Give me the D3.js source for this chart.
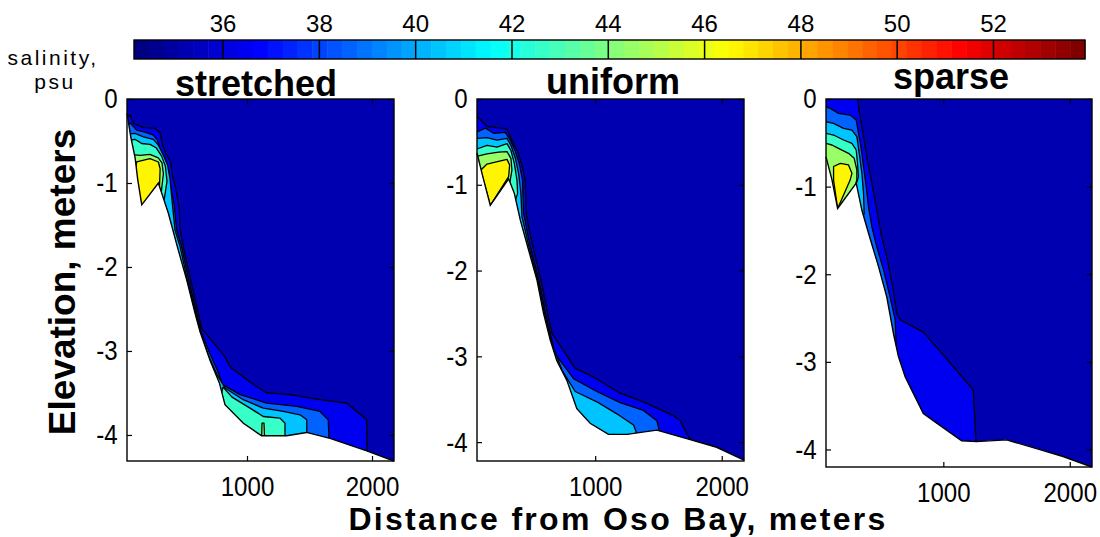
<!DOCTYPE html>
<meta charset="utf-8">
<style>
    body { margin: 0; background: #fff; }
    svg text { font-family: "Liberation Sans", Arial, sans-serif; fill: #000; }
    .contour { stroke: #000; stroke-width: 1.3px; stroke-linejoin: round; }
    .seabed { fill: none; stroke: #000; stroke-width: 1.4px; }
    .frame { fill: none; stroke: #000; stroke-width: 1.4px; }
    .axis path { display: none; }
    .axis line { stroke: #000; stroke-width: 1.2px; }
    .axis text { font-size: 28px; }
    .title { font-size: 36px; font-weight: bold; text-anchor: middle; }
    .label { font-weight: bold; text-anchor: middle; }
    .cbtick { font-size: 24px; text-anchor: middle; }
    .cblabel { font-size: 21px; letter-spacing: 2.5px; text-anchor: middle; }
</style>
<body>
<script src="https://d3js.org/d3.v7.min.js"></script>
<script>
// ---- data (distance in meters, elevation in meters, salinity in psu) ----
var levels = [36, 38, 40, 42, 44, 46, 48, 50, 52];      // contour levels / colorbar ticks
var colorbarDomain = [34.15, 53.9];
var levelFill = {34: 35.3, 36: 36.5, 38: 38.5, 40: 40.5, 42: 42.5, 44: 44.5, 46: 46.5};
var panelTitles = ["stretched", "uniform", "sparse"];
var xDomains = [[40, 2176], [66, 2176], [72, 2176]];
var yDomains = [[-4.31, 0], [-4.22, 0], [-4.2, 0]];
var xTicks = [1000, 2000];
var yTicks = [0, -1, -2, -3, -4];

// seabed profile of each grid
var bottomStretched = [[40,-0.17],[70,-0.45],[105,-0.70],[125,-0.95],[158,-1.26],[291,-1.00],[371,-1.36],[443,-1.76],[517,-2.15],[584,-2.55],[624,-2.77],[704,-3.11],[779,-3.38],[824,-3.64],[971,-3.86],[1117,-4.01],[1317,-4.01],[1477,-3.97],[1664,-4.04],[1958,-4.19],[2176,-4.31]];
var bottomUniform = [[66,-0.63],[113,-0.91],[171,-1.24],[316,-0.93],[361,-1.10],[408,-1.41],[466,-1.72],[540,-2.11],[592,-2.50],[645,-2.81],[697,-3.05],[776,-3.28],[855,-3.61],[960,-3.78],[1105,-3.91],[1250,-3.91],[1487,-3.86],[1723,-3.96],[1960,-4.06],[2176,-4.21]];
var bottomSparse = [[72,-0.66],[119,-0.92],[164,-1.25],[311,-0.96],[356,-1.27],[416,-1.57],[487,-1.91],[553,-2.26],[606,-2.68],[645,-2.94],[698,-3.17],[763,-3.36],[842,-3.59],[948,-3.70],[1145,-3.90],[1263,-3.91],[1500,-3.89],[1737,-3.99],[1947,-4.08],[2176,-4.20]];

// filled contour regions (salinity >= level); open = region reaches down to the seabed
var regionsStretched = [
    {level: 36, open: true, pts: [[30,-0.22],[64,-0.19],[91,-0.29],[171,-0.34],[264,-0.35],[304,-0.40],[325,-0.55],[352,-0.65],[389,-0.75],[405,-0.92],[432,-1.08],[459,-1.32],[464,-1.56],[491,-1.76],[549,-2.15],[611,-2.55],[637,-2.73],[824,-3.07],[864,-3.19],[1024,-3.37],[1157,-3.50],[1344,-3.52],[1584,-3.58],[1797,-3.62],[1957,-3.82],[1963,-4.4]]},
    {level: 38, open: true, pts: [[30,-0.30],[69,-0.29],[117,-0.37],[197,-0.40],[251,-0.43],[283,-0.49],[309,-0.61],[344,-0.71],[371,-0.85],[389,-1.04],[416,-1.24],[437,-1.56],[477,-1.76],[533,-2.15],[597,-2.55],[629,-2.75],[700,-3.02],[760,-3.22],[806,-3.40],[944,-3.52],[1158,-3.62],[1398,-3.66],[1584,-3.72],[1650,-3.82],[1664,-4.4]]},
    {level: 40, open: true, pts: [[30,-0.42],[104,-0.41],[171,-0.45],[251,-0.48],[291,-0.55],[331,-0.67],[365,-0.79],[384,-0.95],[397,-1.16],[424,-1.56],[465,-1.76],[522,-2.15],[590,-2.55],[624,-2.76],[690,-3.05],[760,-3.28],[824,-3.44],[970,-3.58],[1130,-3.68],[1290,-3.72],[1424,-3.76],[1478,-3.82],[1480,-4.4]]},
    {level: 42, open: true, pts: [[30,-0.50],[104,-0.48],[157,-0.53],[224,-0.54],[272,-0.58],[317,-0.68],[347,-0.80],[360,-0.98],[335,-1.22]]},
    {level: 42, open: true, pts: [[780,-3.6],[808,-3.43],[880,-3.55],[1024,-3.68],[1130,-3.78],[1264,-3.80],[1304,-3.86],[1304,-4.4]]},
    {level: 44, open: true, pts: [[30,-0.66],[69,-0.66],[144,-0.67],[224,-0.66],[290,-0.70],[320,-0.76],[331,-0.89],[312,-1.14]]},
    {level: 44, open: false, pts: [[1116,-4.1],[1120,-3.86],[1136,-3.86],[1142,-4.1]]},
    {level: 46, open: false, pts: [[104,-0.94],[117,-0.75],[224,-0.71],[291,-0.75],[305,-0.83],[300,-1.04],[157,-1.26]]}
];
var regionsUniform = [
    {level: 36, open: true, pts: [[0,-0.21],[71,-0.21],[145,-0.32],[303,-0.35],[342,-0.48],[387,-0.61],[421,-0.77],[447,-0.95],[455,-1.33],[474,-1.49],[508,-1.72],[571,-2.11],[624,-2.50],[658,-2.73],[842,-3.14],[987,-3.24],[1197,-3.43],[1381,-3.53],[1618,-3.69],[1671,-3.75],[1750,-3.97],[1760,-4.4]]},
    {level: 38, open: true, pts: [[0,-0.38],[71,-0.38],[132,-0.34],[198,-0.40],[290,-0.39],[329,-0.48],[369,-0.61],[403,-0.77],[426,-0.95],[434,-1.33],[455,-1.49],[487,-1.72],[555,-2.11],[608,-2.50],[650,-2.77],[684,-2.97],[829,-3.26],[1013,-3.41],[1197,-3.54],[1381,-3.63],[1487,-3.75],[1513,-3.9],[1513,-4.4]]},
    {level: 40, open: true, pts: [[0,-0.45],[71,-0.46],[145,-0.45],[224,-0.48],[303,-0.46],[334,-0.54],[369,-0.69],[395,-0.87],[413,-1.10],[421,-1.37],[447,-1.53],[476,-1.72],[547,-2.11],[600,-2.50],[658,-2.85],[737,-3.16],[842,-3.41],[1013,-3.53],[1171,-3.67],[1303,-3.80],[1329,-3.9],[1329,-4.4]]},
    {level: 42, open: true, pts: [[0,-0.58],[71,-0.58],[145,-0.54],[224,-0.56],[303,-0.52],[334,-0.60],[361,-0.75],[382,-0.95],[387,-1.10],[365,-1.2]]},
    {level: 44, open: true, pts: [[0,-0.66],[71,-0.665],[145,-0.64],[237,-0.62],[303,-0.614],[334,-0.692],[342,-0.828],[329,-0.945],[320,-1.0]]},
    {level: 46, open: false, pts: [[95,-0.83],[145,-0.758],[303,-0.704],[324,-0.77],[316,-0.906],[171,-1.24]]}
];
var regionsSparse = [
    {level: 36, open: true, pts: [[0,0.05],[316,0.05],[337,-0.16],[369,-0.43],[400,-0.70],[435,-0.96],[474,-1.27],[513,-1.57],[558,-1.84],[600,-2.14],[632,-2.45],[658,-2.52],[842,-2.66],[987,-2.90],[1237,-3.32],[1258,-3.91],[1258,-4.4]]},
    {level: 38, open: true, pts: [[0,-0.09],[71,-0.088],[106,-0.107],[171,-0.164],[263,-0.183],[311,-0.24],[329,-0.39],[348,-0.54],[369,-0.77],[390,-1.0],[408,-1.23],[435,-1.46],[474,-1.69],[527,-1.95],[579,-2.26],[619,-2.52],[630,-2.9]]},
    {level: 40, open: true, pts: [[0,-0.26],[71,-0.259],[132,-0.278],[211,-0.335],[277,-0.354],[316,-0.43],[335,-0.62],[356,-0.85],[369,-1.08],[374,-1.31],[360,-1.35]]},
    {level: 42, open: true, pts: [[0,-0.39],[71,-0.392],[132,-0.411],[211,-0.468],[277,-0.506],[311,-0.582],[321,-0.734],[329,-0.886],[305,-1.0]]},
    {level: 44, open: true, pts: [[0,-0.5],[71,-0.506],[119,-0.525],[171,-0.563],[250,-0.62],[295,-0.677],[316,-0.81],[316,-0.92],[305,-0.98]]},
    {level: 46, open: false, pts: [[132,-0.77],[185,-0.734],[250,-0.753],[277,-0.848],[263,-0.925],[164,-1.25],[132,-0.925]]}
];

var bottoms = [bottomStretched, bottomUniform, bottomSparse];
var regions = [regionsStretched, regionsUniform, regionsSparse];

// ---- layout (pixels) ----
var width = 1100, height = 537;
var boxes = [
    {x0: 127, x1: 394, y0: 99, y1: 461},
    {x0: 477, x1: 744, y0: 99, y1: 461},
    {x0: 826, x1: 1092, y0: 99, y1: 467}
];
var titlePos = [{x: 256, y: 96}, {x: 613, y: 94}, {x: 951, y: 89}];
var cb = {x0: 134, x1: 1085, y0: 40, y1: 59};
var FLOOR = -6;

// MATLAB style jet colormap with 64 entries
function jet(t) {
    var c = function(v) { return Math.round(255 * Math.max(0, Math.min(1, v))); };
    return "rgb(" + c(1.5 - Math.abs(4 * t - 3)) + "," + c(1.5 - Math.abs(4 * t - 2)) + "," + c(1.5 - Math.abs(4 * t - 1)) + ")";
}
var nColors = 64;
var tScale = d3.scaleLinear().domain(colorbarDomain).range([0, 1]).clamp(true);
function salinityColor(v) {
    var idx = Math.min(nColors - 1, Math.floor(tScale(v) * nColors));
    return jet(idx / (nColors - 1));
}

var svg = d3.select("body").append("svg")
    .attr("width", width)
    .attr("height", height);

// ---- colorbar ----
var cbX = d3.scaleLinear().domain(colorbarDomain).range([cb.x0, cb.x1]);
var steps = d3.range(nColors);
var stepW = (colorbarDomain[1] - colorbarDomain[0]) / nColors;
svg.append("g").selectAll("rect").data(steps).enter().append("rect")
    .attr("x", function(i) { return cbX(colorbarDomain[0] + i * stepW); })
    .attr("y", cb.y0)
    .attr("width", function(i) { return cbX(colorbarDomain[0] + (i + 1) * stepW) - cbX(colorbarDomain[0] + i * stepW) + 0.5; })
    .attr("height", cb.y1 - cb.y0)
    .attr("fill", function(i) { return jet(i / (nColors - 1)); });
svg.append("g").selectAll("line").data(levels).enter().append("line")
    .attr("x1", function(d) { return cbX(d); })
    .attr("x2", function(d) { return cbX(d); })
    .attr("y1", cb.y0).attr("y2", cb.y1)
    .attr("stroke", "#000").attr("stroke-width", 1.5);
svg.append("rect")
    .attr("class", "frame")
    .attr("x", cb.x0).attr("y", cb.y0)
    .attr("width", cb.x1 - cb.x0).attr("height", cb.y1 - cb.y0);
svg.append("g").selectAll("text").data(levels).enter().append("text")
    .attr("class", "cbtick")
    .attr("x", function(d) { return cbX(d); })
    .attr("y", 32)
    .text(function(d) { return d; });
svg.append("text").attr("class", "cblabel").attr("x", 53).attr("y", 65).text("salinity,");
svg.append("text").attr("class", "cblabel").attr("x", 55).attr("y", 89).text("psu");

// ---- panels ----
panelTitles.forEach(function(title, i) {
    var box = boxes[i];
    var x = d3.scaleLinear().domain(xDomains[i]).range([box.x0, box.x1]);
    var y = d3.scaleLinear().domain(yDomains[i]).range([box.y1, box.y0]);
    var line = d3.line()
        .x(function(d) { return x(d[0]); })
        .y(function(d) { return y(d[1]); });

    // water area: surface down to the seabed
    var water = [[xDomains[i][0], 0], [xDomains[i][1], 0]].concat(bottoms[i].slice().reverse());

    var g = svg.append("g");
    g.append("clipPath").attr("id", "water" + i)
        .append("path").attr("d", line(water) + "Z");

    var inner = g.append("g").attr("clip-path", "url(#water" + i + ")");
    inner.append("path")
        .attr("d", line(water) + "Z")
        .attr("fill", salinityColor(levelFill[34]));

    regions[i].slice().sort(function(a, b) { return a.level - b.level; })
        .forEach(function(r) {
            var pts = r.pts;
            if (r.open) {
                pts = pts.concat([[pts[pts.length - 1][0], FLOOR], [pts[0][0], FLOOR]]);
            }
            inner.append("path")
                .attr("class", "contour")
                .attr("d", line(pts) + "Z")
                .attr("fill", salinityColor(levelFill[r.level]));
        });

    g.append("path").attr("class", "seabed").attr("d", line(bottoms[i]));

    // axes with inward ticks on all four sides
    g.append("g").attr("class", "axis")
        .attr("transform", "translate(" + box.x0 + ",0)")
        .call(d3.axisLeft(y).tickValues(yTicks).tickSize(-5).tickSizeOuter(0).tickPadding(11)
            .tickFormat(function(d) { return String(d); }))
        .selectAll("text").attr("transform", "scale(0.86,1)");
    g.append("g").attr("class", "axis")
        .attr("transform", "translate(" + box.x1 + ",0)")
        .call(d3.axisRight(y).tickValues(yTicks).tickSize(-5).tickSizeOuter(0).tickFormat(""));
    g.append("g").attr("class", "axis")
        .attr("transform", "translate(0," + box.y1 + ")")
        .call(d3.axisBottom(x).tickValues(xTicks).tickSize(-5).tickSizeOuter(0).tickPadding(15)
            .tickFormat(function(d) { return String(d); }))
        .selectAll("text").attr("transform", "scale(0.86,1)");
    g.append("g").attr("class", "axis")
        .attr("transform", "translate(0," + box.y0 + ")")
        .call(d3.axisTop(x).tickValues(xTicks).tickSize(-5).tickSizeOuter(0).tickFormat(""));

    g.append("rect")
        .attr("class", "frame")
        .attr("x", box.x0).attr("y", box.y0)
        .attr("width", box.x1 - box.x0).attr("height", box.y1 - box.y0);

    svg.append("text")
        .attr("class", "title")
        .attr("x", titlePos[i].x)
        .attr("y", titlePos[i].y)
        .text(title);
});

// axis titles
svg.append("text")
    .attr("class", "label")
    .attr("transform", "translate(75,282) rotate(-90)")
    .style("font-size", "37px")
    .text("Elevation, meters");
svg.append("text")
    .attr("class", "label")
    .attr("x", 618)
    .attr("y", 530)
    .style("font-size", "32px")
    .style("letter-spacing", "2.3px")
    .text("Distance from Oso Bay, meters");
</script>
</body>
